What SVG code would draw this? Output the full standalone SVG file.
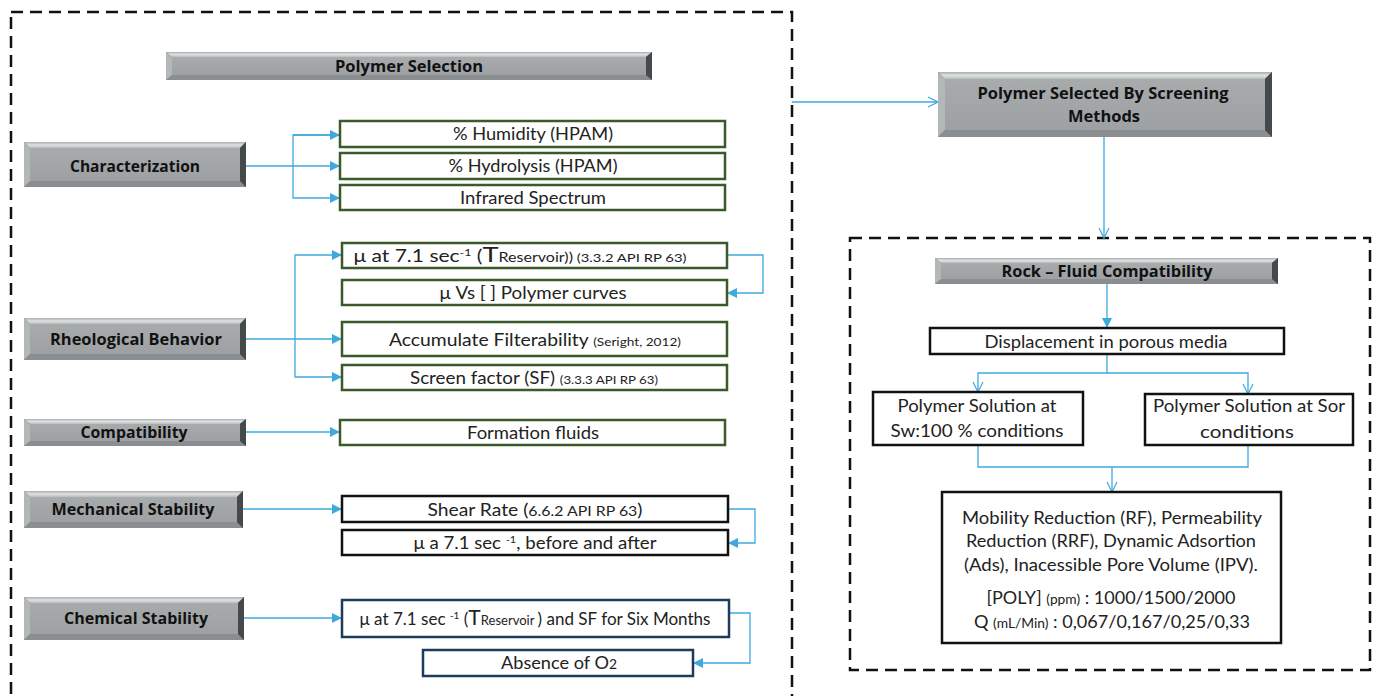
<svg xmlns="http://www.w3.org/2000/svg" width="1376" height="696" viewBox="0 0 1376 696">
<defs>
  <marker id="tri" viewBox="0 0 10 10" refX="10" refY="5" markerWidth="10" markerHeight="10" markerUnits="userSpaceOnUse" orient="auto">
    <path d="M0,0 L10,5 L0,10 Z" fill="#3fa9dd"/>
  </marker>
  <marker id="vee" viewBox="0 0 12 12" refX="11" refY="6" markerWidth="12" markerHeight="12" markerUnits="userSpaceOnUse" orient="auto">
    <path d="M1,1 L11,6 L1,11" fill="none" stroke="#3fa9dd" stroke-width="1.2"/>
  </marker>
  <linearGradient id="face" x1="0" y1="0" x2="0" y2="1">
    <stop offset="0" stop-color="#a7abac"/>
    <stop offset="1" stop-color="#9da1a3"/>
  </linearGradient>
  <linearGradient id="topface" x1="0" y1="0" x2="0" y2="1">
    <stop offset="0" stop-color="#a9adae"/>
    <stop offset="0.5" stop-color="#dfe2e3"/>
    <stop offset="1" stop-color="#b8bcbd"/>
  </linearGradient>
</defs>
<style>
  .dash{fill:none;stroke:#111;stroke-width:2.5;stroke-dasharray:12 7}
  .edge{fill:#6c7072}
  .top{fill:url(#topface)}
  .bot{fill:#8a8e90}
  .lft{fill:#b3b7b8}
  .rgt{fill:#45494b}
  .face{fill:url(#face)}
  .gbox{fill:#fff;stroke:#3b5a2b;stroke-width:2.5}
  .kbox{fill:#fff;stroke:#111;stroke-width:2.5}
  .nbox{fill:#fff;stroke:#1f3b5c;stroke-width:2.5}
  .lbl{font-family:"Open Sans",Lato,"Liberation Sans",sans-serif;font-weight:bold;font-size:16px;fill:#111;text-anchor:middle}
  .txt{font-family:Lato,"Open Sans","Liberation Sans",sans-serif;font-size:17px;fill:#222;text-anchor:middle}
  .conn{fill:none;stroke:#3fa9dd;stroke-width:1.3}
</style>

<!-- dashed frames -->
<rect class="dash" x="11" y="12" width="781" height="700"/>
<rect class="dash" x="850" y="238" width="520" height="432"/>

<!-- connectors -->
<g id="connectors">
  <path class="conn" d="M246,166 H340" marker-end="url(#tri)"/>
  <path class="conn" d="M340,135 H293 V198 H340" marker-end="url(#tri)"/>
  <path class="conn" d="M293,135 H340" marker-end="url(#tri)"/>
  <path class="conn" d="M246,339 H342" marker-end="url(#tri)"/>
  <path class="conn" d="M295,339 V255 H342" marker-end="url(#tri)"/>
  <path class="conn" d="M295,339 V377 H342" marker-end="url(#tri)"/>
  <path class="conn" d="M727,255 H763 V293 H727" marker-end="url(#tri)"/>
  <path class="conn" d="M246,432 H340" marker-end="url(#tri)"/>
  <path class="conn" d="M243,509 H342" marker-end="url(#tri)"/>
  <path class="conn" d="M728,509 H755 V543 H728" marker-end="url(#tri)"/>
  <path class="conn" d="M244,618 H342" marker-end="url(#tri)"/>
  <path class="conn" d="M729,613 H750 V663 H693" marker-end="url(#tri)"/>
  <path class="conn" d="M792,102 H938" marker-end="url(#vee)"/>
  <path class="conn" d="M1104,137 V238" marker-end="url(#vee)"/>
  <path class="conn" d="M1107,284 V328" marker-end="url(#tri)"/>
  <path class="conn" d="M1107,354 V373 H978 V392" marker-end="url(#vee)"/>
  <path class="conn" d="M1107,373 H1248 V394" marker-end="url(#vee)"/>
  <path class="conn" d="M978,445 V467 H1248 V445"/>
  <path class="conn" d="M1112,467 V492" marker-end="url(#vee)"/>
</g>

<!-- Polymer Selection -->
<g id="polymer-selection">
  <rect class="edge" x="166" y="52" width="486" height="28"/>
  <polygon class="top" points="166,52 652,52 646,57 172,57"/>
  <polygon class="bot" points="166,80 652,80 646,75 172,75"/>
  <polygon class="lft" points="166,52 172,57 172,75 166,80"/>
  <polygon class="rgt" points="652,52 646,57 646,75 652,80"/>
  <rect class="face" x="172" y="57" width="474" height="18"/>
  <text class="lbl" x="409" y="72" textLength="148" lengthAdjust="spacingAndGlyphs">Polymer Selection</text>
</g>

<g id="characterization">
  <rect class="edge" x="24" y="142" width="222" height="45"/>
  <polygon class="top" points="24,142 246,142 240,148 30,148"/>
  <polygon class="bot" points="24,187 246,187 240,181 30,181"/>
  <polygon class="lft" points="24,142 30,148 30,181 24,187"/>
  <polygon class="rgt" points="246,142 240,148 240,181 246,187"/>
  <rect class="face" x="30" y="148" width="210" height="33"/>
  <text class="lbl" x="135" y="172" font-size="17" textLength="130" lengthAdjust="spacingAndGlyphs">Characterization</text>
</g>

<g id="humidity">
  <rect class="gbox" x="340" y="121" width="385" height="26"/>
  <text class="txt" x="533" y="140" textLength="160" lengthAdjust="spacingAndGlyphs">% Humidity (HPAM)</text>
</g>
<g id="hydrolysis">
  <rect class="gbox" x="340" y="153" width="385" height="26"/>
  <text class="txt" x="533" y="172" textLength="169" lengthAdjust="spacingAndGlyphs">% Hydrolysis (HPAM)</text>
</g>
<g id="infrared">
  <rect class="gbox" x="340" y="185" width="385" height="25"/>
  <text class="txt" x="533" y="204" textLength="146" lengthAdjust="spacingAndGlyphs">Infrared  Spectrum</text>
</g>

<g id="rheological">
  <rect class="edge" x="24" y="318" width="222" height="42"/>
  <polygon class="top" points="24,318 246,318 240,324 30,324"/>
  <polygon class="bot" points="24,360 246,360 240,354 30,354"/>
  <polygon class="lft" points="24,318 30,324 30,354 24,360"/>
  <polygon class="rgt" points="246,318 240,324 240,354 246,360"/>
  <rect class="face" x="30" y="324" width="210" height="30"/>
  <text class="lbl" x="136" y="345" font-size="17" textLength="172" lengthAdjust="spacingAndGlyphs">Rheological Behavior</text>
</g>

<g id="viscosity">
  <rect class="gbox" x="342" y="243" width="385" height="25"/>
  <text class="txt" x="520" y="262" textLength="333" lengthAdjust="spacingAndGlyphs">μ at 7.1 sec<tspan font-size="10" dy="-6">-1</tspan><tspan dy="6"> (</tspan><tspan font-size="22">T</tspan><tspan font-size="13">Reservoir))</tspan><tspan font-size="12"> (3.3.2  API  RP 63)</tspan></text>
</g>
<g id="viscosity-curves">
  <rect class="gbox" x="342" y="280" width="385" height="25"/>
  <text class="txt" x="533" y="299" textLength="187" lengthAdjust="spacingAndGlyphs">μ Vs  [ ] Polymer curves</text>
</g>
<g id="filterability">
  <rect class="gbox" x="342" y="322" width="385" height="34"/>
  <text class="txt" x="535" y="346" textLength="292" lengthAdjust="spacingAndGlyphs">Accumulate Filterability <tspan font-size="12">  (Seright,  2012)</tspan></text>
</g>
<g id="screen-factor">
  <rect class="gbox" x="342" y="365" width="385" height="25"/>
  <text class="txt" x="534" y="384" textLength="248" lengthAdjust="spacingAndGlyphs">Screen factor (SF) <tspan font-size="12">(3.3.3  API  RP 63)</tspan></text>
</g>

<g id="compatibility">
  <rect class="edge" x="24" y="419" width="222" height="27"/>
  <polygon class="top" points="24,419 246,419 240,424 30,424"/>
  <polygon class="bot" points="24,446 246,446 240,441 30,441"/>
  <polygon class="lft" points="24,419 30,424 30,441 24,446"/>
  <polygon class="rgt" points="246,419 240,424 240,441 246,446"/>
  <rect class="face" x="30" y="424" width="210" height="17"/>
  <text class="lbl" x="134" y="438" textLength="107" lengthAdjust="spacingAndGlyphs">Compatibility</text>
</g>
<g id="formation-fluids">
  <rect class="gbox" x="340" y="420" width="385" height="25"/>
  <text class="txt" x="533" y="439" textLength="132" lengthAdjust="spacingAndGlyphs">Formation fluids</text>
</g>

<g id="mechanical">
  <rect class="edge" x="24" y="491" width="219" height="37"/>
  <polygon class="top" points="24,491 243,491 237,497 30,497"/>
  <polygon class="bot" points="24,528 243,528 237,522 30,522"/>
  <polygon class="lft" points="24,491 30,497 30,522 24,528"/>
  <polygon class="rgt" points="243,491 237,497 237,522 243,528"/>
  <rect class="face" x="30" y="497" width="207" height="25"/>
  <text class="lbl" x="133" y="515" font-size="17" textLength="163" lengthAdjust="spacingAndGlyphs">Mechanical Stability</text>
</g>
<g id="shear-rate">
  <rect class="kbox" x="342" y="496" width="386" height="26"/>
  <text class="txt" x="535" y="516" font-size="16" textLength="215" lengthAdjust="spacingAndGlyphs">Shear  Rate (<tspan font-size="14">6.6.2 API RP 63</tspan>)</text>
</g>
<g id="before-after">
  <rect class="kbox" x="342" y="530" width="386" height="25"/>
  <text class="txt" x="535" y="549" textLength="243" lengthAdjust="spacingAndGlyphs">μ a 7.1 sec <tspan font-size="10" dy="-6">-1</tspan><tspan dy="6">,  before and after</tspan></text>
</g>

<g id="chemical">
  <rect class="edge" x="24" y="597" width="220" height="43"/>
  <polygon class="top" points="24,597 244,597 238,603 30,603"/>
  <polygon class="bot" points="24,640 244,640 238,634 30,634"/>
  <polygon class="lft" points="24,597 30,603 30,634 24,640"/>
  <polygon class="rgt" points="244,597 238,603 238,634 244,640"/>
  <rect class="face" x="30" y="603" width="208" height="31"/>
  <text class="lbl" x="136" y="624" font-size="17" textLength="144" lengthAdjust="spacingAndGlyphs">Chemical Stability</text>
</g>
<g id="six-months">
  <rect class="nbox" x="342" y="600" width="387" height="37"/>
  <text class="txt" x="535" y="625" font-size="16" textLength="351" lengthAdjust="spacingAndGlyphs">μ at 7.1 sec <tspan font-size="10" dy="-6">-1</tspan><tspan dy="6"> (</tspan><tspan font-size="21">T</tspan><tspan font-size="13">Reservoir </tspan>) and SF for Six Months</text>
</g>
<g id="oxygen">
  <rect class="nbox" x="423" y="650" width="270" height="26"/>
  <text class="txt" x="559" y="669" font-size="16" textLength="116" lengthAdjust="spacingAndGlyphs">Absence of O<tspan font-size="13">2</tspan></text>
</g>

<!-- right column -->
<g id="screening">
  <rect class="edge" x="938" y="72" width="334" height="65"/>
  <polygon class="top" points="938,72 1272,72 1265,79 945,79"/>
  <polygon class="bot" points="938,137 1272,137 1265,130 945,130"/>
  <polygon class="lft" points="938,72 945,79 945,130 938,137"/>
  <polygon class="rgt" points="1272,72 1265,79 1265,130 1272,137"/>
  <rect class="face" x="945" y="79" width="320" height="51"/>
  <text class="lbl" x="1103" y="99" font-size="17" textLength="251" lengthAdjust="spacingAndGlyphs">Polymer Selected By Screening</text>
  <text class="lbl" x="1104" y="122" font-size="17" textLength="72" lengthAdjust="spacingAndGlyphs">Methods</text>
</g>

<g id="rock-fluid">
  <rect class="edge" x="935" y="258" width="343" height="26"/>
  <polygon class="top" points="935,258 1278,258 1272,263 941,263"/>
  <polygon class="bot" points="935,284 1278,284 1272,279 941,279"/>
  <polygon class="lft" points="935,258 941,263 941,279 935,284"/>
  <polygon class="rgt" points="1278,258 1272,263 1272,279 1278,284"/>
  <rect class="face" x="941" y="263" width="331" height="16"/>
  <text class="lbl" x="1107" y="277" textLength="211" lengthAdjust="spacingAndGlyphs">Rock – Fluid Compatibility</text>
</g>

<g id="displacement">
  <rect class="kbox" x="930" y="328" width="354" height="26"/>
  <text class="txt" x="1106" y="348" textLength="243" lengthAdjust="spacingAndGlyphs">Displacement in porous media</text>
</g>
<g id="sw100">
  <rect class="kbox" x="873" y="392" width="210" height="53"/>
  <text class="txt" x="977" y="412" textLength="159" lengthAdjust="spacingAndGlyphs">Polymer Solution at</text>
  <text class="txt" x="977" y="437" textLength="173" lengthAdjust="spacingAndGlyphs">Sw:100 % conditions</text>
</g>
<g id="sor">
  <rect class="kbox" x="1145" y="394" width="208" height="51"/>
  <text class="txt" x="1249" y="412" textLength="192" lengthAdjust="spacingAndGlyphs">Polymer Solution at Sor</text>
  <text class="txt" x="1247" y="438" textLength="94" lengthAdjust="spacingAndGlyphs">conditions</text>
</g>
<g id="mobility">
  <rect class="kbox" x="942" y="492" width="339" height="151"/>
  <text class="txt" x="1112" y="524" textLength="300" lengthAdjust="spacingAndGlyphs">Mobility Reduction (RF), Permeability</text>
  <text class="txt" x="1111" y="547" textLength="290" lengthAdjust="spacingAndGlyphs">Reduction (RRF), Dynamic Adsortion</text>
  <text class="txt" x="1111" y="571" textLength="294" lengthAdjust="spacingAndGlyphs">(Ads), Inacessible Pore Volume (IPV).</text>
  <text class="txt" x="1111" y="604" textLength="249" lengthAdjust="spacingAndGlyphs">[POLY] <tspan font-size="13">(ppm)</tspan> : 1000/1500/2000</text>
  <text class="txt" x="1112" y="628" textLength="276" lengthAdjust="spacingAndGlyphs">Q <tspan font-size="13">(mL/Min)</tspan> : 0,067/0,167/0,25/0,33</text>
</g>
</svg>
